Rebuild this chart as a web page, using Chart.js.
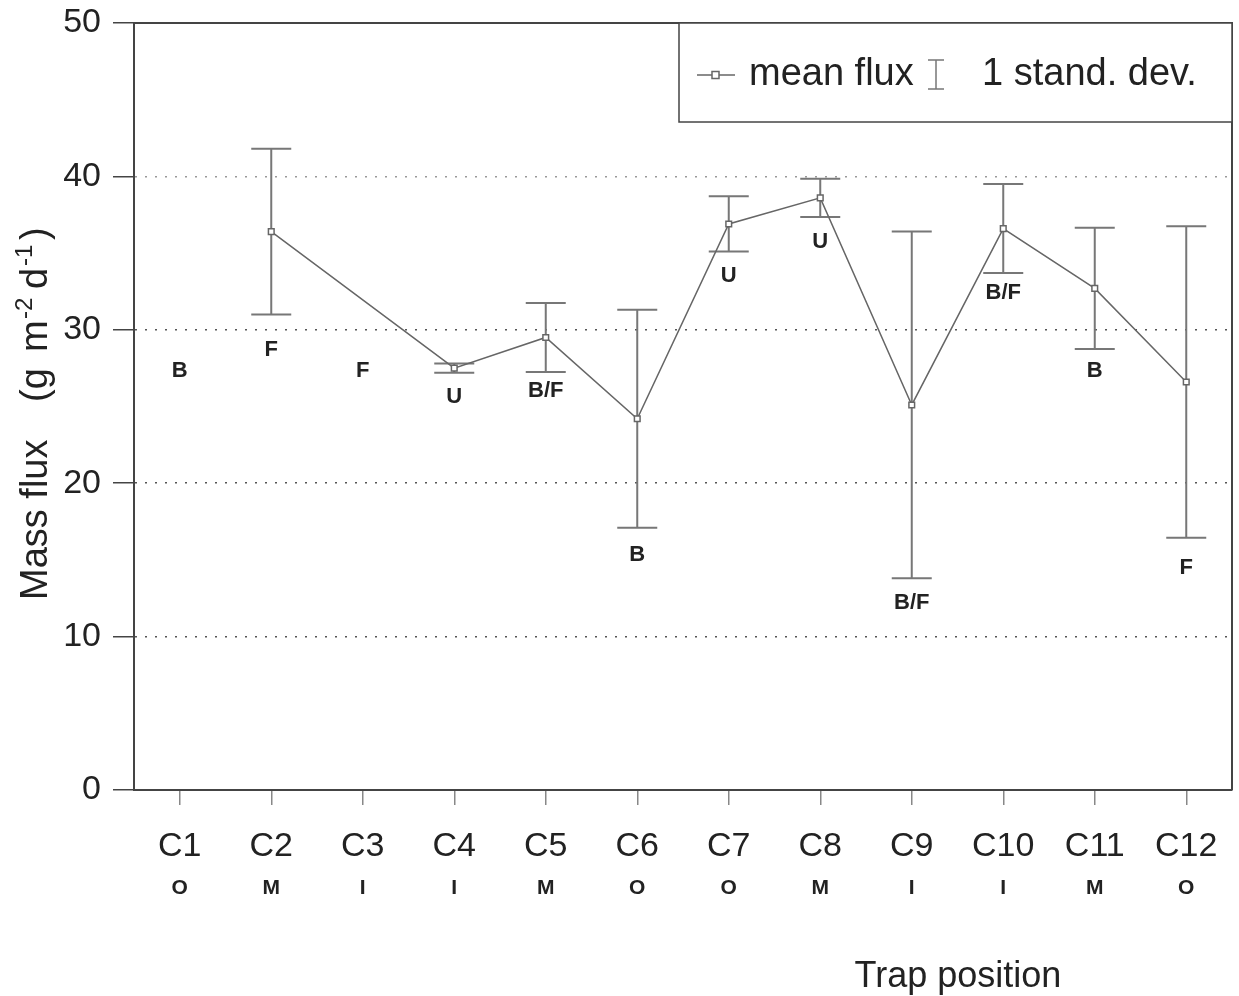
<!DOCTYPE html>
<html>
<head>
<meta charset="utf-8">
<script src="https://cdn.jsdelivr.net/npm/chart.js@4.4.1/dist/chart.umd.min.js"></script>
<style>
  html, body { margin: 0; padding: 0; background: #fff; }
  #wrap { width: 1239px; height: 996px; }
</style>
</head>
<body>
<div id="wrap"><canvas id="fluxChart" width="1239" height="996"></canvas></div>
<script>
// trap positions and their zone letter
const traps = ['C1', 'C2', 'C3', 'C4', 'C5', 'C6', 'C7', 'C8', 'C9', 'C10', 'C11', 'C12'];
const trapZones = ['O', 'M', 'I', 'I', 'M', 'O', 'O', 'M', 'I', 'I', 'M', 'O'];

// mean flux (g m-2 d-1) and 1 standard deviation, no data for C1 and C3
const meanFlux = [null, 36.4, null, 27.5, 29.5, 24.2, 36.9, 38.6, 25.1, 36.6, 32.7, 26.6];
const stdDev = [null, 5.4, null, 0.3, 2.25, 7.1, 1.8, 1.25, 11.3, 2.9, 3.95, 10.15];

// bottom type letter written next to each trap, and the flux level it sits at
const bottomType = ['B', 'F', 'F', 'U', 'B/F', 'B', 'U', 'U', 'B/F', 'B/F', 'B', 'F'];
const bottomTypeAt = [27.3, 28.7, 27.3, 25.6, 26.0, 15.3, 33.5, 35.7, 12.2, 32.4, 27.3, 14.5];

const yMin = 0, yMax = 50, yStep = 10;

const FONT = "'Liberation Sans', Arial, Helvetica, sans-serif";
const INK = '#222';
const LINE = '#666';

const fluxExtras = {
    id: 'fluxExtras',
    beforeDatasetsDraw(chart) {
        const { ctx, chartArea: area, scales: { x, y } } = chart;
        ctx.save();

        // frame: top and right side
        ctx.strokeStyle = '#444';
        ctx.lineWidth = 2;
        ctx.beginPath();
        ctx.moveTo(area.left, area.top);
        ctx.lineTo(area.right, area.top);
        ctx.lineTo(area.right, area.bottom);
        ctx.stroke();

        // error bars
        ctx.strokeStyle = '#777';
        ctx.lineWidth = 2;
        meanFlux.forEach((m, i) => {
            if (m === null) return;
            const px = x.getPixelForValue(i);
            const top = y.getPixelForValue(m + stdDev[i]);
            const bot = y.getPixelForValue(m - stdDev[i]);
            ctx.beginPath();
            ctx.moveTo(px, top); ctx.lineTo(px, bot);
            ctx.moveTo(px - 20, top); ctx.lineTo(px + 20, top);
            ctx.moveTo(px - 20, bot); ctx.lineTo(px + 20, bot);
            ctx.stroke();
        });

        // bottom type letters
        ctx.fillStyle = INK;
        ctx.font = `bold 22px ${FONT}`;
        ctx.textAlign = 'center';
        ctx.textBaseline = 'middle';
        bottomType.forEach((t, i) => {
            ctx.fillText(t, x.getPixelForValue(i), y.getPixelForValue(bottomTypeAt[i]));
        });
        ctx.restore();
    },
    afterDatasetsDraw(chart) {
        const { ctx, chartArea: area } = chart;
        ctx.save();

        // legend box in the top right corner
        const bx = area.right - 553, by = area.top, bw = 553, bh = 99;
        ctx.fillStyle = '#fff';
        ctx.fillRect(bx, by, bw, bh);
        ctx.strokeStyle = '#444';
        ctx.lineWidth = 1.5;
        ctx.strokeRect(bx, by, bw, bh);

        const cy = by + 52;
        ctx.strokeStyle = LINE;
        ctx.lineWidth = 1.5;
        ctx.beginPath();
        ctx.moveTo(bx + 18, cy); ctx.lineTo(bx + 56, cy);
        ctx.stroke();
        ctx.fillStyle = '#fff';
        ctx.fillRect(bx + 33, cy - 3.5, 7, 7);
        ctx.strokeRect(bx + 33, cy - 3.5, 7, 7);

        ctx.fillStyle = INK;
        ctx.font = `38px ${FONT}`;
        ctx.textAlign = 'left';
        ctx.textBaseline = 'middle';
        ctx.fillText('mean flux', bx + 70, cy);

        const ix = bx + 257;
        ctx.strokeStyle = '#777';
        ctx.lineWidth = 1.5;
        ctx.beginPath();
        ctx.moveTo(ix, cy - 15); ctx.lineTo(ix, cy + 14);
        ctx.moveTo(ix - 8, cy - 15); ctx.lineTo(ix + 8, cy - 15);
        ctx.moveTo(ix - 8, cy + 14); ctx.lineTo(ix + 8, cy + 14);
        ctx.stroke();
        ctx.fillText('1 stand. dev.', bx + 303, cy);
        ctx.restore();
    },
    afterDraw(chart) {
        const { ctx } = chart;
        ctx.save();
        ctx.fillStyle = INK;
        ctx.textBaseline = 'alphabetic';

        // x axis title, set right of centre as in the original
        ctx.font = `36px ${FONT}`;
        ctx.textAlign = 'center';
        ctx.fillText('Trap position', 958, 987);

        // y axis title with superscript units
        ctx.translate(47, 0);
        ctx.rotate(-Math.PI / 2);
        ctx.textAlign = 'left';
        const big = `38px ${FONT}`, small = `24px ${FONT}`;
        const parts = [
            ['Mass flux', big, 0, -600],
            ['(g', big, 0, -402],
            ['m', big, 0, -352],
            ['-2', small, -15, -319],
            ['d', big, 0, -289],
            ['-1', small, -15, -266],
            [')', big, 0, -240]
        ];
        parts.forEach(([t, f, dy, u]) => {
            ctx.font = f;
            ctx.fillText(t, u, dy);
        });
        ctx.restore();
    }
};

new Chart(document.getElementById('fluxChart'), {
    type: 'line',
    data: {
        labels: traps,
        datasets: [{
            label: 'mean flux',
            data: meanFlux,
            spanGaps: true,
            borderColor: LINE,
            borderWidth: 1.5,
            tension: 0,
            pointStyle: 'rect',
            pointRadius: 4,
            pointBackgroundColor: '#fff',
            pointBorderColor: LINE,
            pointBorderWidth: 1.5
        }]
    },
    options: {
        responsive: false,
        animation: false,
        layout: { padding: { top: 23, right: 7, left: 0, bottom: 87 } },
        plugins: {
            legend: { display: false },
            tooltip: { enabled: false }
        },
        scales: {
            x: {
                type: 'category',
                offset: true,
                grid: { drawOnChartArea: false, tickLength: 15, color: '#888', lineWidth: 1.5 },
                border: { color: '#444', width: 2 },
                ticks: { color: INK, font: { family: FONT, size: 34 }, padding: 21, maxRotation: 0, autoSkip: false },
                afterFit: s => { s.height = 74; }
            },
            x2: {
                type: 'category',
                position: 'bottom',
                labels: trapZones,
                offset: true,
                grid: { display: false },
                border: { display: false },
                ticks: { color: INK, font: { family: FONT, size: 21, weight: 'bold' }, padding: 4, maxRotation: 0, autoSkip: false },
                afterFit: s => { s.height = 45; }
            },
            y: {
                min: yMin,
                max: yMax,
                ticks: { stepSize: yStep, color: INK, font: { family: FONT, size: 34, lineHeight: 0.6 }, padding: 12 },
                grid: {
                    color: c => {
                        const v = c.tick ? c.tick.value : null;
                        if (v === yMin || v === yMax) return 'rgba(0,0,0,0)';
                        return v === 40 ? '#999' : '#555';
                    },
                    tickColor: '#444',
                    tickLength: 21,
                    lineWidth: 1.5
                },
                border: { color: '#444', width: 2, dash: [2, 8] },
                afterFit: s => { s.width = 134; }
            }
        }
    },
    plugins: [fluxExtras]
});
</script>
</body>
</html>
